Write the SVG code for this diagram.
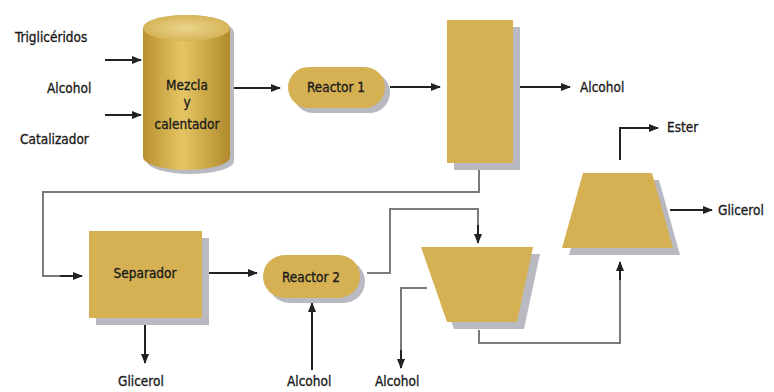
<svg xmlns="http://www.w3.org/2000/svg" width="774" height="392" viewBox="0 0 774 392">
<defs>
<style>
.t{font-family:"DejaVu Sans Condensed","DejaVu Sans",sans-serif;font-size:13.5px;fill:#1a1a1a;stroke:#1a1a1a;stroke-width:0.3;}
.n{fill:#D5B154;}
.s{fill:#B9B9C2;}
.a{fill:none;stroke:#222;stroke-width:2;marker-end:url(#ah);}
.g{fill:none;stroke:#7a7a7a;stroke-width:2;}
</style>
<marker id="ah" markerWidth="10" markerHeight="8" refX="9" refY="4" orient="auto" markerUnits="userSpaceOnUse">
<path d="M0,0 L10,4 L0,8 Z" fill="#222"/>
</marker>
<linearGradient id="cyl" x1="0" y1="0" x2="1" y2="0">
<stop offset="0" stop-color="#B89030"/>
<stop offset="0.45" stop-color="#E6C664"/>
<stop offset="1" stop-color="#B08a2c"/>
</linearGradient>
<radialGradient id="top" cx="0.5" cy="0.5" r="0.6">
<stop offset="0" stop-color="#EAD58A"/>
<stop offset="1" stop-color="#D2AE50"/>
</radialGradient>
</defs>
<rect width="774" height="392" fill="#fff"/>

<g id="connectors">
<path class="a" d="M105,60 H141"/>
<path class="a" d="M105,115 H141"/>
<path class="a" d="M233,88 H280"/>
<path class="a" d="M390,87 H440"/>
<path class="a" d="M520,87 H570"/>
<path class="g" d="M479,165 V192 H43 V276 H70"/>
<path class="a" d="M60,276 H82"/>
<path class="a" d="M208,273 H257"/>
<path class="a" d="M312,370 V303"/>
<path class="a" d="M145,325 V363"/>
<path class="g" d="M367,273 H390 V209 H478 V230"/>
<path class="a" d="M478,225 V243"/>
<path class="g" d="M427,288 H401 V355"/>
<path class="a" d="M401,350 V368"/>
<path class="g" d="M479,330 V343 H620 V275"/>
<path class="a" d="M620,280 V262"/>
<path class="a" d="M620,160 V128 H658"/>
<path class="a" d="M670,210 H712"/>
</g>

<g id="mezcla">
<path class="s" d="M147,32 A43.5,13 0 0 1 234,32 V161 A43.5,13 0 0 1 147,161 Z"/>
<path fill="url(#cyl)" d="M143,28 A43.5,13 0 0 1 230,28 V157 A43.5,13 0 0 1 143,157 Z"/>
<ellipse cx="186.5" cy="28" rx="43.5" ry="13" fill="url(#top)"/>
<text class="t" x="187" y="90" text-anchor="middle">Mezcla</text>
<text class="t" x="187" y="107" text-anchor="middle">y</text>
<text class="t" x="187" y="129" text-anchor="middle">calentador</text>
</g>

<g id="reactor1">
<rect class="s" x="293" y="72" width="97" height="41" rx="20.5"/>
<rect class="n" x="288" y="67" width="97" height="41" rx="20.5"/>
<text class="t" x="336" y="92" text-anchor="middle">Reactor 1</text>
</g>

<g id="columna">
<rect class="s" x="454" y="27" width="66" height="143"/>
<rect class="n" x="447" y="20" width="66" height="143"/>
</g>

<g id="separador">
<rect class="s" x="96" y="238" width="113" height="87"/>
<rect class="n" x="89" y="231" width="113" height="87"/>
<text class="t" x="145" y="278" text-anchor="middle">Separador</text>
</g>

<g id="reactor2">
<rect class="s" x="268" y="260" width="97" height="43" rx="21.5"/>
<rect class="n" x="263" y="255" width="97" height="43" rx="21.5"/>
<text class="t" x="311" y="282" text-anchor="middle">Reactor 2</text>
</g>

<g id="decantador">
<polygon class="s" points="428,254 540,254 524,329 454,329"/>
<polygon class="n" points="421,247 533,247 517,322 447,322"/>
</g>

<g id="lavado">
<polygon class="s" points="590,180 659,180 680,255 569,255"/>
<polygon class="n" points="583,173 652,173 673,248 562,248"/>
</g>

<g id="labels">
<text class="t" x="15" y="42">Triglicéridos</text>
<text class="t" x="47" y="93">Alcohol</text>
<text class="t" x="20" y="144">Catalizador</text>
<text class="t" x="580" y="92">Alcohol</text>
<text class="t" x="667" y="132">Ester</text>
<text class="t" x="718" y="215">Glicerol</text>
<text class="t" x="118" y="386">Glicerol</text>
<text class="t" x="287" y="386">Alcohol</text>
<text class="t" x="375" y="386">Alcohol</text>
</g>
</svg>
